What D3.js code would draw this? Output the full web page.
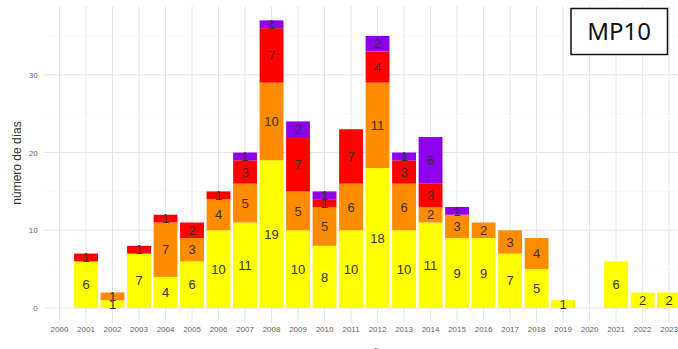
<!DOCTYPE html>
<html><head><meta charset="utf-8">
<script src="https://cdn.jsdelivr.net/npm/d3@7"></script>
<style>body{margin:0;background:#fff}svg{display:block}</style>
</head><body><svg id="c" width="678" height="349"></svg>
<script>
const years = ["2000","2001","2002","2003","2004","2005","2006","2007","2008","2009","2010","2011","2012","2013","2014","2015","2016","2017","2018","2019","2020","2021","2022","2023"];
const yellowDays = [0,6,1,7,4,6,10,11,19,10,8,10,18,10,11,9,9,7,5,1,0,6,2,2];
const orangeDays = [0,0,1,0,7,3,4,5,10,5,5,6,11,6,2,3,2,3,4,0,0,0,0,0];
const redDays    = [0,1,0,1,1,2,1,3,7,7,1,7,4,3,3,0,0,0,0,0,0,0,0,0];
const purpleDays = [0,0,0,0,0,0,0,1,1,2,1,0,2,1,6,1,0,0,0,0,0,0,0,0];
const yTicks = [0,10,20,30];
const seriesNames = ["amarillo","naranja","rojo","morado"];
const seriesColors = ["#FFFF00","#FF8C00","#FF0000","#8C00EC"];
const yLabel = "número de días";
const xLabel = "año";
const title = "MP10";

const svg = d3.select("#c");
const panel = {l:43.6, r:685, t:6, b:322.4};
const x = d3.scaleBand().domain(years).range([panel.l, panel.r]).paddingInner(0.1).paddingOuter(0.15);
const yMax = 37;
const y = d3.scaleLinear().domain([-yMax*0.05, yMax*1.05]).range([panel.b, panel.t]);

const rows = years.map((yr,i)=>({year:yr, amarillo:yellowDays[i], naranja:orangeDays[i], rojo:redDays[i], morado:purpleDays[i]}));
const stack = d3.stack().keys(seriesNames)(rows);

// grid
const g = svg.append("g");
const minor = d3.range(5, 40, 10);
g.selectAll("line.mn").data(minor).join("line")
  .attr("x1",panel.l).attr("x2",panel.r).attr("y1",d=>y(d)).attr("y2",d=>y(d))
  .attr("stroke","#f2f2f2").attr("stroke-width",0.6);
g.selectAll("line.mj").data(yTicks).join("line")
  .attr("x1",panel.l).attr("x2",panel.r).attr("y1",d=>y(d)).attr("y2",d=>y(d))
  .attr("stroke","#e6e6e6").attr("stroke-width",1);
g.selectAll("line.vx").data(years).join("line")
  .attr("x1",d=>x(d)+x.bandwidth()/2).attr("x2",d=>x(d)+x.bandwidth()/2)
  .attr("y1",panel.t).attr("y2",panel.b)
  .attr("stroke","#e6e6e6").attr("stroke-width",1);

// bars
stack.forEach((s,si)=>{
  svg.append("g").selectAll("rect").data(s.filter(d=>d[1]-d[0]>0)).join("rect")
    .attr("x",d=>x(d.data.year)).attr("width",x.bandwidth())
    .attr("y",d=>y(d[1])).attr("height",d=>y(d[0])-y(d[1]))
    .attr("fill",seriesColors[si]);
});
stack.forEach((s,si)=>{
  svg.append("g").selectAll("text").data(s.filter(d=>d[1]-d[0]>0)).join("text")
    .attr("x",d=>x(d.data.year)+x.bandwidth()/2)
    .attr("y",d=>y((d[0]+d[1])/2))
    .attr("dy","0.36em")
    .attr("text-anchor","middle")
    .attr("font-family","Liberation Sans, Arial, sans-serif")
    .attr("font-size",13)
    .attr("fill","#33331f")
    .text(d=>d[1]-d[0]);
});

// axes
const xa = svg.append("g").attr("transform",`translate(0,${panel.b})`)
  .call(d3.axisBottom(x).tickSize(0).tickPadding(4));
xa.select(".domain").remove();
xa.selectAll("text").attr("font-family","Liberation Sans, Arial, sans-serif").attr("font-size",8).attr("fill","#666");
const ya = svg.append("g").attr("transform",`translate(${panel.l},0)`)
  .call(d3.axisLeft(y).tickValues(yTicks).tickSize(0).tickPadding(6));
ya.select(".domain").remove();
ya.selectAll("text").attr("font-family","Liberation Sans, Arial, sans-serif").attr("font-size",8).attr("fill","#666");

svg.append("text").attr("transform",`translate(21,163) rotate(-90)`)
  .attr("text-anchor","middle").attr("font-family","Liberation Sans, Arial, sans-serif")
  .attr("font-size",12).attr("fill","#333").text(yLabel);
svg.append("text").attr("x",(panel.l+panel.r)/2+12).attr("y",356)
  .attr("text-anchor","middle").attr("font-family","Liberation Sans, Arial, sans-serif")
  .attr("font-size",10).attr("fill","#333").text(xLabel);

// title box
svg.append("rect").attr("x",571).attr("y",8.5).attr("width",96.5).attr("height",46)
  .attr("fill","#fff").attr("stroke","#111").attr("stroke-width",1.5);
svg.append("text").attr("x",619).attr("y",31.5).attr("dy","0.36em").attr("text-anchor","middle")
  .attr("font-family","Noto Sans, DejaVu Sans, sans-serif").attr("font-size",24).attr("fill","#111").text(title);
</script></body></html>
